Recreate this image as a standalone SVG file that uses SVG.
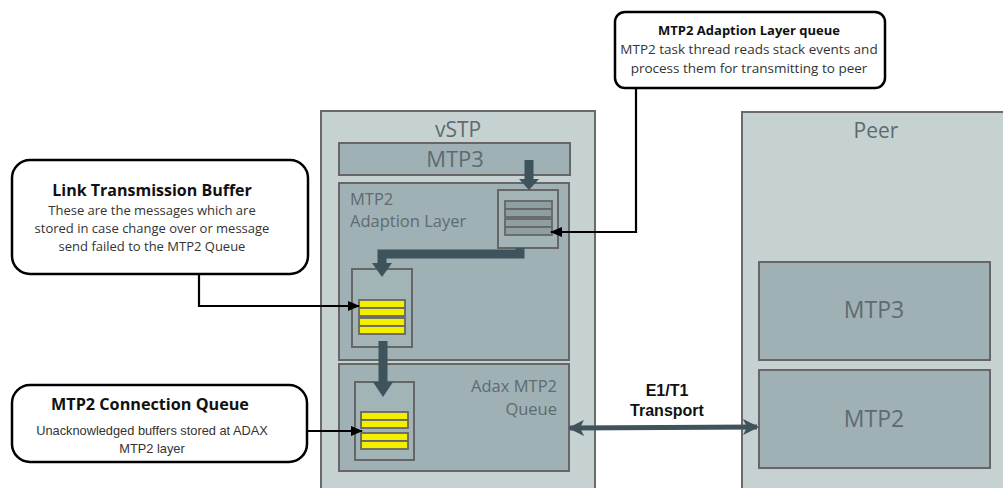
<svg xmlns="http://www.w3.org/2000/svg" width="1003" height="488" viewBox="0 0 1003 488">
<defs>
<style>
.outer{fill:#c6d1d2;stroke:#6a6a6a;stroke-width:2}
.inner{fill:#9fb1b4;stroke:#666;stroke-width:2}
.qbox{fill:#a3b4b7;stroke:#666;stroke-width:2}
.gbar{fill:#8f9ea1;stroke:#666;stroke-width:1.8}
.ybar{fill:#f4ee00;stroke:#666;stroke-width:1.8}
.lbl{font-family:"Open Sans","DejaVu Sans",sans-serif;fill:#5e6b70}
.call{fill:#fff;stroke:#000;stroke-width:2.5}
.ct{font-family:"Open Sans","DejaVu Sans",sans-serif;font-weight:bold;fill:#111;text-anchor:middle}
.cb{font-family:"Open Sans","DejaVu Sans",sans-serif;fill:#333;text-anchor:middle}
.cba{font-family:"Liberation Sans",Arial,sans-serif;fill:#333;text-anchor:middle}
.thick{fill:none;stroke:#3f535c;stroke-width:9}
.head{fill:#3f535c}
.lead{fill:none;stroke:#000;stroke-width:2.2}
</style>
<marker id="ah" markerUnits="userSpaceOnUse" markerWidth="12" markerHeight="10" refX="11" refY="5" orient="auto">
<path d="M0,0 L12,5 L0,10 z" fill="#000"/>
</marker>
<marker id="dh" markerUnits="userSpaceOnUse" markerWidth="16" markerHeight="16" refX="14" refY="8" orient="auto-start-reverse">
<path d="M0,0 L16,8 L0,16 L4,8 z" fill="#3f535c"/>
</marker>
</defs>

<g id="vstp">
<rect class="outer" x="321" y="111" width="274" height="380"/>
<text class="lbl" x="458" y="137" font-size="21" text-anchor="middle">vSTP</text>
</g>
<g id="vstp-mtp3">
<rect class="inner" x="339" y="143" width="231" height="32"/>
<text class="lbl" x="455" y="167" font-size="22" text-anchor="middle">MTP3</text>
</g>
<g id="vstp-adaption">
<rect class="inner" x="339" y="183" width="230" height="177"/>
<text class="lbl" x="350" y="205" font-size="16.5">MTP2</text>
<text class="lbl" x="350" y="227" font-size="16.5">Adaption Layer</text>
</g>
<g id="vstp-adax">
<rect class="inner" x="339" y="364" width="230" height="107"/>
<text class="lbl" x="557" y="392" font-size="16.5" text-anchor="end">Adax MTP2</text>
<text class="lbl" x="557" y="415" font-size="16.5" text-anchor="end">Queue</text>
</g>
<g id="adaption-queue">
<rect class="qbox" x="498" y="190" width="60" height="58"/>
<rect class="gbar" x="505" y="201" width="47" height="8"/>
<rect class="gbar" x="505" y="209" width="47" height="8"/>
<rect class="gbar" x="505" y="219" width="47" height="8"/>
<rect class="gbar" x="505" y="227" width="47" height="8"/>
</g>
<g id="link-buffer-queue">
<rect class="qbox" x="352" y="269" width="60" height="78"/>
<rect class="ybar" x="359" y="300" width="46" height="8"/>
<rect class="ybar" x="359" y="308" width="46" height="8"/>
<rect class="ybar" x="359" y="318" width="46" height="8"/>
<rect class="ybar" x="359" y="326" width="46" height="8"/>
</g>
<g id="connection-queue">
<rect class="qbox" x="355" y="382" width="59" height="78"/>
<rect class="ybar" x="361" y="412" width="47" height="8"/>
<rect class="ybar" x="361" y="420" width="47" height="8"/>
<rect class="ybar" x="361" y="433" width="47" height="8"/>
<rect class="ybar" x="361" y="441" width="47" height="8"/>
</g>

<g id="peer">
<rect class="outer" x="742" y="112" width="270" height="380"/>
<text class="lbl" x="876" y="138" font-size="21" text-anchor="middle">Peer</text>
</g>
<g id="peer-mtp3">
<rect class="inner" x="759" y="262" width="231" height="98"/>
<text class="lbl" x="874" y="318" font-size="23" text-anchor="middle">MTP3</text>
</g>
<g id="peer-mtp2">
<rect class="inner" x="759" y="370" width="231" height="98"/>
<text class="lbl" x="874" y="427" font-size="23" text-anchor="middle">MTP2</text>
</g>

<g id="callout-adaption">
<rect class="call" x="615" y="12" width="270" height="76" rx="10"/>
<text class="ct" x="749" y="35" font-size="13">MTP2 Adaption Layer queue</text>
<text class="cb" x="749" y="54" font-size="13.5">MTP2 task thread reads stack events and</text>
<text class="cb" x="749" y="73" font-size="13.5">process them for transmitting to peer</text>
</g>
<g id="callout-link">
<rect class="call" x="12" y="160" width="296" height="114" rx="18"/>
<text class="ct" x="152" y="196" font-size="16">Link Transmission Buffer</text>
<text class="cb" x="152" y="215" font-size="13">These are the messages which are</text>
<text class="cb" x="152" y="233" font-size="13">stored in case change over or message</text>
<text class="cb" x="152" y="251" font-size="13">send failed to the MTP2 Queue</text>
</g>
<g id="callout-connection">
<rect class="call" x="12" y="385" width="295" height="77" rx="18"/>
<text class="ct" x="150" y="410" font-size="16.2">MTP2 Connection Queue</text>
<text class="cba" x="152" y="435" font-size="12.8">Unacknowledged buffers stored at ADAX</text>
<text class="cba" x="152" y="453" font-size="12.8">MTP2 layer</text>
</g>

<g id="connectors">
<path class="thick" d="M529,160 V180"/>
<path class="head" d="M519,179 H539 L529,190 z"/>
<path class="thick" d="M520,248 V254 H382 V264"/>
<path class="head" d="M372,263 H392 L382,277 z"/>
<path class="thick" d="M383,341 V383"/>
<path class="head" d="M373,382 H393 L383,397 z"/>
<path d="M570,428 L757,427" fill="none" stroke="#3f535c" stroke-width="5" marker-start="url(#dh)" marker-end="url(#dh)"/>
<text x="667" y="396" font-family="Liberation Sans,Arial,sans-serif" font-weight="bold" font-size="16" text-anchor="middle" fill="#111">E1/T1</text>
<text x="667" y="416" font-family="Liberation Sans,Arial,sans-serif" font-weight="bold" font-size="16" text-anchor="middle" fill="#111">Transport</text>
<path class="lead" d="M636,88 V232 H551" marker-end="url(#ah)"/>
<path class="lead" d="M199,274 V306 H359" marker-end="url(#ah)"/>
<path class="lead" d="M307,431 H362" marker-end="url(#ah)"/>
</g>
</svg>
